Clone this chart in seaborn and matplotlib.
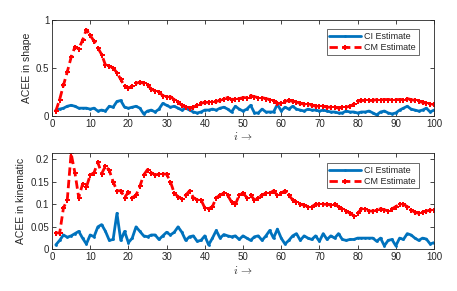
import numpy as np
import pandas as pd
import matplotlib
matplotlib.use("Agg")
import matplotlib.pyplot as plt
import seaborn as sns

iters = list(range(1, 101))

shape_ci = [0.06, 0.07, 0.08, 0.10, 0.11, 0.10, 0.08, 0.08, 0.08, 0.07,
            0.08, 0.05, 0.06, 0.05, 0.10, 0.09, 0.15, 0.16, 0.09, 0.08,
            0.09, 0.10, 0.08, 0.02, 0.05, 0.06, 0.04, 0.07, 0.13, 0.11,
            0.09, 0.10, 0.08, 0.06, 0.08, 0.06, 0.04, 0.03, 0.04, 0.06,
            0.06, 0.07, 0.06, 0.08, 0.09, 0.07, 0.04, 0.10, 0.07, 0.05,
            0.07, 0.11, 0.03, 0.03, 0.07, 0.04, 0.04, 0.04, 0.12, 0.05,
            0.09, 0.07, 0.10, 0.07, 0.06, 0.05, 0.07, 0.06, 0.06, 0.05,
            0.06, 0.05, 0.04, 0.04, 0.03, 0.03, 0.05, 0.04, 0.04, 0.03,
            0.04, 0.04, 0.05, 0.03, 0.01, 0.04, 0.05, 0.03, 0.02, 0.03,
            0.06, 0.08, 0.10, 0.07, 0.06, 0.05, 0.06, 0.08, 0.04, 0.06]

shape_cm = [0.05, 0.17, 0.32, 0.46, 0.61, 0.72, 0.70, 0.79, 0.90, 0.84,
            0.78, 0.71, 0.64, 0.53, 0.52, 0.50, 0.45, 0.38, 0.31, 0.29,
            0.31, 0.34, 0.35, 0.34, 0.32, 0.28, 0.26, 0.25, 0.21, 0.20,
            0.20, 0.17, 0.14, 0.11, 0.09, 0.08, 0.09, 0.11, 0.13, 0.14,
            0.14, 0.14, 0.15, 0.16, 0.18, 0.19, 0.17, 0.18, 0.18, 0.19,
            0.19, 0.21, 0.20, 0.19, 0.19, 0.18, 0.17, 0.15, 0.13, 0.13,
            0.15, 0.16, 0.15, 0.14, 0.13, 0.12, 0.12, 0.11, 0.10, 0.10,
            0.10, 0.09, 0.09, 0.09, 0.08, 0.09, 0.09, 0.10, 0.12, 0.15,
            0.16, 0.16, 0.16, 0.16, 0.17, 0.17, 0.17, 0.17, 0.17, 0.17,
            0.17, 0.17, 0.18, 0.17, 0.16, 0.15, 0.14, 0.13, 0.12, 0.12]

kin_ci = [0.010, 0.020, 0.032, 0.027, 0.030, 0.035, 0.040, 0.025, 0.012, 0.032,
          0.028, 0.050, 0.055, 0.040, 0.020, 0.022, 0.080, 0.020, 0.040, 0.015,
          0.025, 0.050, 0.040, 0.030, 0.028, 0.032, 0.032, 0.022, 0.030, 0.038,
          0.032, 0.038, 0.050, 0.038, 0.020, 0.028, 0.030, 0.018, 0.020, 0.030,
          0.010, 0.025, 0.042, 0.025, 0.033, 0.030, 0.028, 0.030, 0.022, 0.030,
          0.025, 0.020, 0.028, 0.030, 0.020, 0.030, 0.042, 0.025, 0.045, 0.025,
          0.012, 0.020, 0.030, 0.035, 0.020, 0.030, 0.025, 0.022, 0.030, 0.018,
          0.035, 0.022, 0.030, 0.025, 0.035, 0.022, 0.020, 0.022, 0.022, 0.025,
          0.025, 0.025, 0.025, 0.025, 0.018, 0.025, 0.008, 0.020, 0.022, 0.008,
          0.025, 0.022, 0.035, 0.032, 0.025, 0.020, 0.025, 0.023, 0.012, 0.015]

kin_cm = [0.037, 0.036, 0.092, 0.110, 0.213, 0.170, 0.115, 0.145, 0.138, 0.165,
          0.170, 0.193, 0.168, 0.185, 0.175, 0.150, 0.130, 0.130, 0.115, 0.127,
          0.115, 0.120, 0.140, 0.165, 0.177, 0.170, 0.165, 0.167, 0.167, 0.167,
          0.150, 0.125, 0.117, 0.112, 0.120, 0.130, 0.115, 0.110, 0.110, 0.092,
          0.090, 0.095, 0.115, 0.120, 0.125, 0.120, 0.105, 0.100, 0.120, 0.125,
          0.115, 0.120, 0.110, 0.115, 0.120, 0.125, 0.125, 0.130, 0.120, 0.125,
          0.130, 0.120, 0.110, 0.105, 0.100, 0.098, 0.095, 0.095, 0.100, 0.100,
          0.100, 0.100, 0.098, 0.100, 0.095, 0.090, 0.085, 0.080, 0.075, 0.080,
          0.090, 0.090, 0.085, 0.085, 0.088, 0.090, 0.088, 0.085, 0.090, 0.095,
          0.100, 0.100, 0.095, 0.088, 0.082, 0.080, 0.083, 0.085, 0.087, 0.087]

sns.set_theme(style="white")
plt.rcParams['font.family'] = ['Liberation Sans', 'DejaVu Sans']
plt.rcParams['mathtext.fontset'] = 'cm'

BLUE = '#0072BD'
RED = '#FF0000'
AXC = '#262626'

fig = plt.figure(figsize=(4.57, 2.91), dpi=100)
ax1 = fig.add_axes([52/457, 0.602, 382/457, 0.329])
ax2 = fig.add_axes([52/457, 0.143, 382/457, 0.330])


def draw(ax, ci, cm, ylabel, ylim, yticks, yticklabels, leg_top):
    df_ci = pd.DataFrame({'i': iters, 'v': ci})
    df_cm = pd.DataFrame({'i': iters, 'v': cm})
    sns.lineplot(data=df_ci, x='i', y='v', ax=ax, color=BLUE, lw=2.0,
                 marker='.', markersize=4, markeredgewidth=0,
                 label='CI Estimate')
    sns.lineplot(data=df_cm, x='i', y='v', ax=ax, color=RED, lw=2.0,
                 linestyle=(0, (3, 1.5)), marker='P', markersize=3.6,
                 markeredgewidth=0, label='CM Estimate')
    ax.set_xlim(0, 100)
    ax.set_ylim(*ylim)
    ax.set_xticks(range(0, 101, 10))
    ax.set_yticks(yticks)
    ax.set_yticklabels(yticklabels)
    ax.set_ylabel(ylabel, fontsize=7.5, color=AXC, labelpad=3)
    ax.set_xlabel(r'$i\,\rightarrow$', fontsize=8, color=AXC, labelpad=1)
    ax.tick_params(direction='in', length=3, width=0.6, colors=AXC,
                   labelsize=7, top=True, right=True, bottom=True, left=True,
                   pad=2)
    for s in ax.spines.values():
        s.set_color(AXC)
        s.set_linewidth(0.6)
    leg = ax.legend(loc='upper right', fontsize=6.5, frameon=True,
                    fancybox=False, borderpad=0.3, handlelength=3.5,
                    handletextpad=0.4, labelspacing=0.2,
                    bbox_to_anchor=(0.972, leg_top))
    leg.get_frame().set_edgecolor(AXC)
    leg.get_frame().set_linewidth(0.6)


draw(ax1, shape_ci, shape_cm, 'ACEE in shape', (0, 1), [0, 0.5, 1],
     ['0', '0.5', '1'], 0.95)
draw(ax2, kin_ci, kin_cm, 'ACEE in kinematic', (0, 0.213),
     [0, 0.05, 0.1, 0.15, 0.2], ['0', '0.05', '0.1', '0.15', '0.2'], 0.945)

fig.savefig('out.png', dpi=100)
